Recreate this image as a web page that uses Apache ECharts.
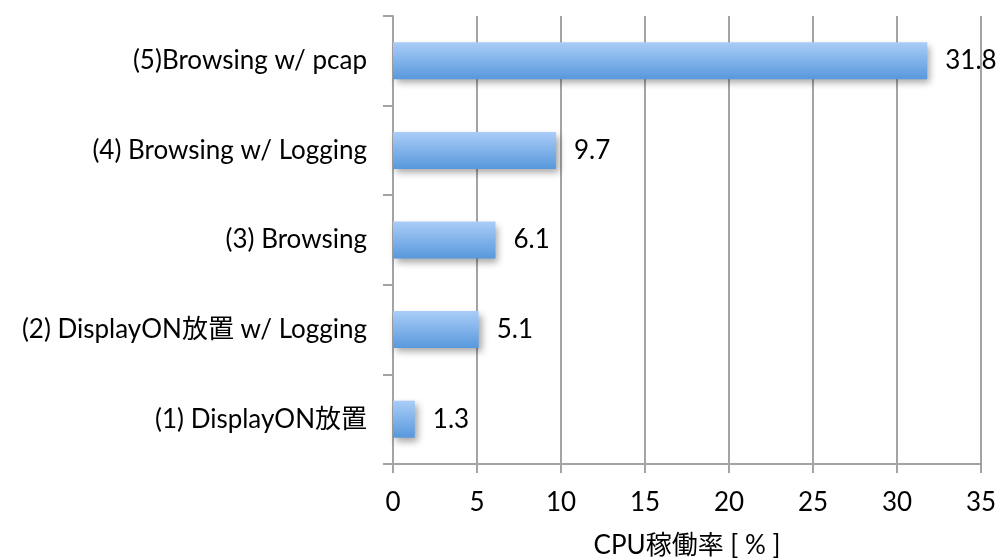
<!DOCTYPE html>
<html>
<head>
<meta charset="utf-8">
<script src="https://cdn.jsdelivr.net/npm/echarts@6/dist/echarts.min.js"></script>
<style>
html, body { margin: 0; padding: 0; background: #fff; }
#chart { width: 1001px; height: 560px; }
</style>
</head>
<body>
<div id="chart"></div>
<script>
// Categories listed bottom to top
const categories = [
  '(1) DisplayON放置',
  '(2) DisplayON放置 w/ Logging',
  '(3) Browsing',
  '(4) Browsing w/ Logging',
  '(5)Browsing w/ pcap'
];
const cpuUsage = [1.3, 5.1, 6.1, 9.7, 31.8];
const xTicks = { min: 0, max: 35, interval: 5 };
const xAxisTitle = 'CPU稼働率 [ % ]';

const FONT = "Lato, 'Noto Sans CJK JP', sans-serif";
const GRID_GRAY = '#a3a3a3';

const chart = echarts.init(document.getElementById('chart'));
chart.setOption({
  animation: false,
  backgroundColor: '#ffffff',
  grid: {
    left: 393, right: 20, top: 16, bottom: 96,
    containLabel: false,
    outerBoundsMode: 'none'
  },
  xAxis: {
    type: 'value',
    min: xTicks.min,
    max: xTicks.max,
    interval: xTicks.interval,
    axisLine: { show: true, lineStyle: { color: GRID_GRAY, width: 2 } },
    axisTick: { show: true, length: 9, lineStyle: { color: GRID_GRAY, width: 2 } },
    splitLine: { show: true, lineStyle: { color: GRID_GRAY, width: 2 } },
    axisLabel: { color: '#000', fontSize: 26, fontFamily: FONT, margin: 26 },
    name: xAxisTitle,
    nameLocation: 'middle',
    nameGap: 69,
    nameTextStyle: { color: '#000', fontSize: 26, fontFamily: FONT }
  },
  yAxis: {
    type: 'category',
    data: categories,
    axisLine: { show: true, lineStyle: { color: GRID_GRAY, width: 2 } },
    axisTick: { show: true, length: 10, lineStyle: { color: GRID_GRAY, width: 2 } },
    axisLabel: { color: '#000', fontSize: 26, fontFamily: FONT, margin: 26 }
  },
  series: [{
    type: 'bar',
    data: cpuUsage,
    barWidth: 37,
    itemStyle: {
      color: new echarts.graphic.LinearGradient(0, 0, 0, 1, [
        { offset: 0, color: '#aacdf8' },
        { offset: 1, color: '#5898dc' }
      ]),
      shadowColor: 'rgba(0,0,0,0.35)',
      shadowBlur: 7,
      shadowOffsetX: 3,
      shadowOffsetY: 4
    },
    label: {
      show: true,
      position: 'right',
      distance: 18,
      color: '#000',
      fontSize: 26,
      fontFamily: FONT,
      formatter: p => p.value.toFixed(1)
    }
  }]
});
</script>
</body>
</html>
